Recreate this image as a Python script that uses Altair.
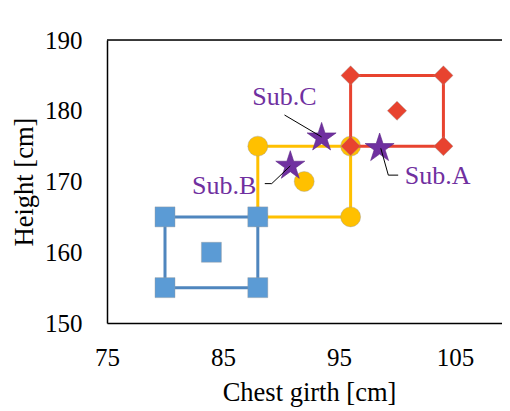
import altair as alt
import pandas as pd

# Groups (rectangles with corner markers and a centre marker)
rect_x = {"A": [96, 104, 104, 96, 96], "B": [88, 96, 96, 88, 88], "C": [80, 88, 88, 80, 80]}
rect_y = {"A": [175, 175, 185, 185, 175], "B": [165, 165, 175, 175, 165], "C": [155, 155, 165, 165, 155]}
center_x = {"A": 100, "B": 92, "C": 84}
center_y = {"A": 180, "B": 170, "C": 160}

# Subjects (stars)
sub_names = ["Sub.A", "Sub.B", "Sub.C"]
sub_x = [98.5, 90.8, 93.5]
sub_y = [174.7, 172.2, 176.2]
label_x = [103.5, 85.1, 90.3]
label_y = [170.8, 169.4, 181.9]
leader_x = {"Sub.A": [98.6, 99.25, 100.1], "Sub.B": [88.6, 89.2, 90.8], "Sub.C": [90.3, 93.5]}
leader_y = {"Sub.A": [174.7, 170.9, 170.9], "Sub.B": [169.7, 169.7, 172.2], "Sub.C": [179.4, 176.3]}

x_ticks = [75, 85, 95, 105]
y_ticks = [150, 160, 170, 180, 190]

style = {
    "A": {"line": "#E8432F", "fill": "#E8432F", "shape": "diamond", "size": 370},
    "B": {"line": "#FFC000", "fill": "#FFC000", "shape": "circle", "size": 400},
    "C": {"line": "#4F86BE", "fill": "#5B9BD5", "shape": "square", "size": 400},
}

STAR = ("M0,-1L0.2245,-0.309L0.951,-0.309L0.363,0.118L0.588,0.809L0,0.382"
        "L-0.588,0.809L-0.363,0.118L-0.951,-0.309L-0.2245,-0.309Z")

FONT = "Liberation Serif"
X_DOM = [75, 109.05]
Y_DOM = [150, 190]

xs = alt.Scale(domain=X_DOM, nice=False, zero=False)
ys = alt.Scale(domain=Y_DOM, nice=False, zero=False)

x_axis = alt.Axis(values=x_ticks, title="Chest girth [cm]", orient="bottom",
                  titleX=202, titleY=77, titleBaseline="alphabetic")
y_axis = alt.Axis(values=y_ticks, title="Height [cm]", orient="left",
                  titleX=-75, titleBaseline="alphabetic", titleAngle=-90)


def X(field="x"):
    return alt.X(f"{field}:Q", scale=xs, axis=x_axis)


def Y(field="y"):
    return alt.Y(f"{field}:Q", scale=ys, axis=y_axis)


layers = []
# frame top
top = alt.Chart(pd.DataFrame({"x": [X_DOM[0]], "x2": [X_DOM[1]], "y": [Y_DOM[1]]})).mark_rule(
    color="black", strokeWidth=1.5).encode(x=X(), x2="x2:Q", y=Y())
layers.append(top)

draw_order = ["B", "C", "A"]
for g in draw_order:
    st = style[g]
    df = pd.DataFrame({"x": rect_x[g], "y": rect_y[g], "o": list(range(len(rect_x[g])))})
    line = alt.Chart(df).mark_line(color=st["line"], strokeWidth=3).encode(
        x=X(), y=Y(), order="o:Q")
    pts = alt.Chart(pd.DataFrame({"x": rect_x[g][:4] + [center_x[g]],
                                  "y": rect_y[g][:4] + [center_y[g]]})).mark_point(
        shape=st["shape"], size=st["size"], filled=True, fill=st["fill"], opacity=1,
        stroke="#999999", strokeWidth=0.4).encode(x=X(), y=Y())
    layers += [line, pts]

stars = alt.Chart(pd.DataFrame({"x": sub_x, "y": sub_y})).mark_point(
    shape=STAR, size=930, filled=True, fill="#7030A0", opacity=1,
    stroke="#5A2585", strokeWidth=0.6).encode(x=X(), y=Y())
layers.append(stars)

rows = []
for n in sub_names:
    for i, (lx, ly) in enumerate(zip(leader_x[n], leader_y[n])):
        rows.append({"s": n, "x": lx, "y": ly, "o": i})
leaders = alt.Chart(pd.DataFrame(rows)).mark_line(color="black", strokeWidth=1).encode(
    x=X(), y=Y(), detail="s:N", order="o:Q")
layers.append(leaders)

labels = alt.Chart(pd.DataFrame({"x": label_x, "y": label_y, "t": sub_names})).mark_text(
    font=FONT, fontSize=26, color="#7030A0", align="center", baseline="middle").encode(
    x=X(), y=Y(), text="t:N")
layers.append(labels)

chart = alt.layer(*layers).properties(
    width=395, height=283,
    autosize=alt.AutoSizeParams(type="none"),
    padding={"left": 99, "top": 32, "right": 0, "bottom": 90},
).configure_view(stroke=None).configure(background="white").configure_axis(
    grid=False, ticks=False, labelFont=FONT, labelFontSize=25, labelColor="black",
    labelFlush=False, labelOverlap=False,
    titleFont=FONT, titleFontSize=26.5, titleFontWeight="normal", titleColor="black",
    domainColor="black", domainWidth=1.5,
).configure_axisX(labelPadding=22).configure_axisY(labelPadding=25)

chart.save("out.html", embed_options={"renderer": "svg", "actions": False})
